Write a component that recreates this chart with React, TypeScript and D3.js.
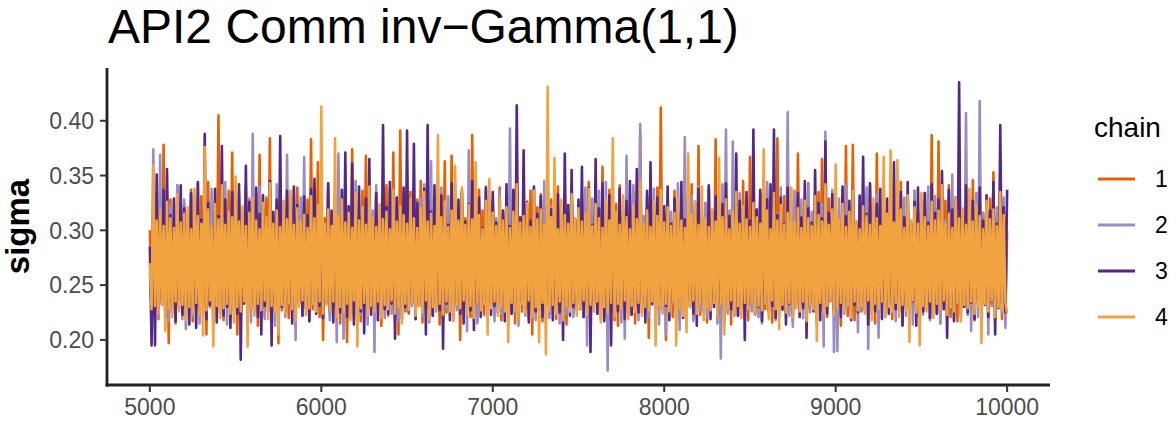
import React from 'react';
import * as d3 from 'd3';

const titleText = 'API2 Comm inv\u2212Gamma(1,1)';
const yLabel = 'sigma';
const legendTitle = 'chain';
const chainNames = ['1', '2', '3', '4'];
const chainColors = ['#E66101', '#998EC3', '#542788', '#F1A340'];
const iterStart = 5000;
const iterEnd = 10000;
const xTicks = [5000, 6000, 7000, 8000, 9000, 10000];
const yTicks = [0.2, 0.25, 0.3, 0.35, 0.4];

// sigma draws, one value every 10 iterations (5000 .. 10000)
const chain1 = [
  .300,.232,.321,.226,.334,.219,.309,.237,.378,.224,.316,.197,.328,.231,.306,.215,.341,.228,.313,.236,.325,.220,.302,.233,.337,.217,.318,.229,.307,.238,.331,.222,.311,.205,.344,.230,.320,.214,.304,.235,.405,.225,.327,.218,.312,.232,.336,.221,.371,.227,
  .315,.205,.329,.224,.308,.236,.340,.219,.322,.230,.303,.226,.335,.213,.369,.234,.317,.222,.330,.238,.384,.216,.310,.231,.326,.197,.343,.227,.305,.235,.319,.220,.332,.229,.308,.213,.339,.237,.314,.224,.301,.232,.328,.218,.383,.228,.316,.236,.362,.221,
  .324,.200,.311,.233,.338,.221,.306,.229,.327,.237,.342,.215,.313,.226,.320,.198,.304,.234,.374,.223,.330,.231,.309,.217,.336,.238,.368,.225,.318,.230,.302,.219,.333,.236,.314,.213,.327,.228,.341,.222,.307,.235,.371,.218,.323,.205,.391,.232,.310,.226,
  .317,.224,.335,.237,.303,.220,.328,.231,.345,.216,.312,.227,.306,.235,.331,.222,.319,.229,.338,.214,.308,.233,.363,.225,.315,.238,.368,.219,.326,.231,.304,.200,.334,.227,.311,.236,.322,.221,.387,.230,.305,.217,.337,.234,.318,.223,.329,.228,.309,.236,
  .326,.222,.307,.233,.339,.218,.314,.229,.301,.237,.330,.224,.318,.215,.343,.231,.309,.226,.325,.238,.312,.220,.336,.205,.304,.234,.321,.227,.333,.217,.310,.232,.302,.223,.328,.236,.316,.219,.340,.229,.306,.235,.323,.214,.311,.230,.334,.225,.303,.238,
  .319,.228,.332,.221,.308,.236,.344,.216,.315,.231,.327,.224,.305,.237,.358,.220,.313,.233,.337,.226,.302,.218,.324,.213,.341,.235,.310,.227,.329,.222,.306,.238,.335,.215,.317,.232,.388,.224,.312,.230,.331,.202,.304,.236,.326,.219,.339,.229,.412,.225,
  .314,.200,.328,.234,.307,.221,.336,.229,.319,.217,.302,.236,.333,.225,.311,.231,.342,.219,.316,.238,.377,.223,.305,.232,.325,.216,.339,.228,.309,.235,.383,.220,.318,.230,.303,.226,.330,.237,.313,.214,.337,.233,.308,.222,.322,.229,.345,.236,.310,.218,
  .367,.231,.321,.224,.306,.237,.334,.219,.315,.228,.340,.233,.303,.216,.327,.235,.384,.222,.312,.230,.331,.226,.304,.238,.338,.217,.318,.232,.370,.224,.309,.236,.326,.220,.343,.229,.305,.234,.320,.215,.335,.227,.365,.233,.311,.221,.329,.237,.307,.225,
  .323,.230,.310,.213,.337,.236,.377,.222,.314,.229,.378,.218,.306,.234,.332,.226,.319,.237,.302,.220,.341,.231,.316,.215,.370,.228,.308,.235,.330,.223,.313,.232,.339,.219,.304,.236,.324,.227,.344,.214,.311,.233,.328,.224,.305,.238,.336,.221,.317,.230,
  .312,.226,.334,.237,.303,.219,.387,.232,.320,.224,.381,.215,.309,.235,.327,.228,.341,.221,.306,.233,.318,.217,.335,.230,.302,.236,.326,.223,.313,.229,.346,.218,.308,.234,.331,.225,.316,.237,.303,.220,.329,.231,.353,.226,.311,.234,.323,.219,.306,.229,
  .228,
];

const chain2 = [
  .262,.229,.374,.235,.318,.221,.369,.232,.309,.226,.336,.217,.322,.233,.305,.224,.341,.230,.314,.219,.328,.210,.307,.236,.333,.222,.316,.228,.343,.215,.311,.234,.325,.225,.302,.231,.338,.218,.319,.236,.306,.223,.331,.229,.344,.214,.313,.233,.327,.226,
  .308,.232,.335,.220,.317,.235,.303,.227,.329,.216,.388,.231,.312,.224,.340,.236,.321,.219,.305,.230,.334,.225,.315,.213,.342,.234,.310,.228,.326,.221,.369,.233,.304,.226,.337,.200,.318,.235,.330,.222,.367,.229,.309,.217,.323,.236,.339,.224,.314,.231,
  .327,.222,.306,.234,.343,.218,.316,.230,.332,.198,.370,.227,.311,.201,.335,.233,.302,.225,.328,.219,.345,.236,.313,.223,.320,.231,.307,.214,.336,.229,.318,.189,.341,.235,.309,.226,.325,.220,.304,.232,.338,.224,.315,.236,.330,.217,.308,.228,.334,.233,
  .319,.225,.305,.231,.337,.219,.314,.236,.329,.222,.342,.228,.310,.216,.363,.234,.324,.226,.303,.232,.339,.220,.317,.229,.331,.235,.306,.218,.344,.227,.315,.233,.326,.224,.308,.208,.373,.230,.320,.236,.335,.215,.312,.228,.302,.234,.340,.223,.318,.231,
  .328,.217,.311,.235,.336,.224,.304,.230,.321,.219,.393,.233,.316,.226,.343,.213,.309,.236,.330,.222,.318,.229,.303,.234,.338,.218,.314,.231,.327,.225,.345,.236,.307,.220,.322,.228,.335,.233,.312,.215,.301,.230,.333,.224,.317,.236,.340,.221,.310,.229,
  .324,.234,.306,.222,.339,.195,.315,.231,.329,.226,.302,.236,.336,.219,.318,.228,.344,.172,.311,.233,.326,.224,.305,.235,.333,.216,.320,.201,.368,.230,.308,.223,.341,.236,.316,.218,.397,.229,.313,.234,.327,.221,.304,.232,.338,.226,.319,.214,.332,.235,
  .310,.205,.335,.227,.317,.233,.302,.220,.343,.209,.321,.236,.385,.224,.308,.230,.331,.217,.314,.235,.340,.226,.303,.232,.325,.221,.337,.229,.312,.236,.329,.215,.306,.183,.342,.231,.392,.224,.318,.234,.381,.222,.309,.228,.334,.236,.316,.219,.327,.233,
  .304,.226,.338,.232,.319,.221,.330,.215,.311,.236,.344,.224,.307,.230,.326,.218,.315,.234,.339,.227,.301,.233,.408,.222,.323,.212,.336,.229,.312,.236,.328,.220,.305,.231,.341,.225,.317,.234,.332,.216,.309,.230,.324,.194,.390,.228,.313,.235,.337,.189,
  .318,.190,.329,.233,.306,.224,.342,.230,.314,.219,.335,.236,.302,.207,.327,.228,.310,.234,.339,.192,.320,.225,.305,.231,.333,.202,.316,.236,.344,.221,.308,.229,.325,.233,.312,.217,.338,.226,.303,.235,.330,.222,.319,.231,.307,.214,.336,.228,.315,.234,
  .326,.223,.311,.232,.340,.218,.304,.236,.331,.227,.317,.215,.343,.233,.309,.225,.322,.230,.351,.220,.314,.235,.337,.226,.303,.231,.407,.224,.325,.208,.310,.236,.334,.221,.418,.229,.316,.234,.328,.205,.306,.232,.339,.219,.321,.236,.308,.225,.330,.211,
  .300,
];

const chain3 = [
  .285,.195,.318,.195,.351,.228,.309,.234,.337,.220,.356,.231,.314,.225,.329,.217,.303,.236,.341,.223,.320,.230,.307,.214,.334,.233,.316,.211,.344,.227,.310,.235,.388,.219,.325,.232,.302,.226,.338,.216,.313,.234,.377,.222,.328,.230,.306,.211,.335,.236,
  .319,.224,.342,.182,.311,.233,.359,.218,.326,.229,.304,.236,.339,.221,.315,.205,.332,.231,.308,.226,.345,.195,.317,.234,.328,.219,.386,.230,.305,.225,.336,.236,.312,.215,.340,.228,.323,.233,.301,.222,.331,.229,.314,.217,.338,.235,.347,.224,.309,.231,
  .327,.220,.306,.234,.343,.227,.318,.216,.333,.232,.310,.225,.337,.236,.371,.221,.322,.230,.361,.214,.304,.233,.340,.226,.315,.206,.329,.235,.365,.223,.308,.231,.334,.218,.312,.236,.396,.228,.321,.224,.344,.233,.307,.201,.330,.235,.316,.219,.339,.230,
  .391,.226,.314,.234,.379,.219,.325,.231,.303,.236,.338,.205,.396,.229,.317,.222,.341,.235,.309,.227,.332,.192,.320,.233,.305,.218,.343,.230,.313,.236,.328,.224,.336,.215,.308,.232,.324,.227,.345,.209,.311,.234,.330,.221,.302,.236,.339,.228,.316,.223,
  .335,.231,.307,.225,.329,.236,.318,.217,.342,.230,.304,.224,.337,.233,.414,.220,.312,.235,.373,.228,.326,.216,.309,.232,.340,.226,.315,.236,.331,.221,.303,.229,.344,.234,.319,.218,.306,.231,.333,.225,.314,.200,.370,.236,.323,.222,.355,.230,.310,.227,
  .328,.234,.358,.221,.311,.230,.339,.189,.305,.236,.365,.224,.320,.232,.343,.217,.308,.229,.332,.195,.316,.235,.302,.226,.338,.231,.313,.219,.327,.236,.345,.223,.309,.230,.356,.225,.321,.234,.304,.216,.336,.229,.362,.233,.314,.222,.330,.236,.307,.227,
  .322,.231,.340,.218,.306,.235,.329,.226,.315,.233,.344,.220,.310,.229,.333,.236,.301,.224,.326,.213,.338,.232,.312,.227,.305,.236,.341,.219,.318,.230,.331,.225,.308,.234,.324,.216,.343,.231,.313,.228,.302,.236,.370,.222,.327,.233,.311,.200,.335,.229,
  .309,.236,.392,.223,.319,.230,.337,.217,.304,.234,.328,.226,.342,.231,.392,.220,.314,.235,.330,.228,.306,.214,.339,.233,.317,.225,.303,.236,.334,.221,.312,.229,.345,.202,.320,.232,.307,.226,.355,.235,.325,.218,.311,.230,.381,.224,.316,.236,.333,.227,
  .318,.233,.305,.221,.340,.229,.313,.236,.327,.218,.336,.232,.308,.225,.331,.235,.367,.227,.315,.214,.343,.233,.302,.226,.324,.236,.338,.219,.310,.231,.329,.224,.306,.234,.362,.228,.321,.236,.335,.213,.312,.230,.344,.223,.304,.235,.326,.213,.339,.232,
  .311,.226,.334,.236,.307,.220,.342,.231,.316,.224,.328,.235,.354,.228,.303,.202,.337,.233,.319,.217,.330,.236,.435,.222,.312,.230,.341,.225,.305,.234,.327,.219,.314,.236,.339,.227,.309,.232,.332,.221,.318,.235,.344,.205,.306,.229,.396,.233,.321,.225,
  .337,
];

const chain4 = [
  .270,.228,.359,.231,.309,.224,.318,.233,.304,.208,.326,.229,.311,.221,.302,.235,.333,.226,.307,.232,.315,.218,.321,.230,.301,.225,.338,.234,.313,.223,.306,.204,.376,.227,.319,.236,.303,.194,.324,.231,.310,.220,.341,.229,.305,.233,.317,.224,.312,.216,
  .349,.230,.308,.226,.322,.235,.304,.194,.316,.229,.330,.222,.309,.233,.301,.227,.325,.236,.312,.219,.343,.231,.306,.225,.318,.205,.303,.232,.327,.224,.310,.234,.336,.228,.305,.217,.320,.230,.308,.236,.314,.223,.302,.229,.331,.233,.311,.226,.323,.235,
  .413,.224,.306,.232,.319,.227,.304,.235,.384,.221,.313,.230,.328,.225,.307,.233,.316,.218,.302,.236,.334,.194,.309,.229,.321,.234,.305,.223,.340,.231,.312,.226,.303,.235,.324,.220,.310,.232,.317,.228,.301,.236,.337,.224,.308,.230,.322,.215,.314,.233,
  .306,.227,.329,.234,.311,.222,.302,.231,.320,.225,.335,.236,.308,.219,.315,.230,.304,.228,.387,.233,.312,.223,.326,.235,.303,.226,.318,.217,.359,.232,.309,.229,.339,.236,.305,.224,.323,.231,.310,.220,.362,.234,.314,.227,.301,.233,.327,.205,.347,.229,
  .316,.235,.304,.222,.330,.231,.309,.226,.321,.198,.302,.234,.317,.228,.342,.219,.307,.233,.313,.225,.325,.236,.303,.221,.336,.230,.310,.198,.319,.234,.305,.187,.431,.227,.312,.232,.366,.224,.301,.235,.328,.218,.314,.231,.306,.226,.333,.234,.311,.222,
  .320,.229,.308,.236,.315,.223,.338,.232,.304,.227,.324,.235,.311,.216,.302,.230,.329,.225,.309,.234,.384,.221,.317,.233,.305,.228,.332,.236,.312,.219,.301,.231,.323,.226,.310,.234,.344,.222,.306,.230,.318,.227,.303,.235,.327,.195,.313,.232,.337,.224,
  .307,.233,.321,.226,.304,.235,.316,.195,.330,.229,.309,.222,.302,.207,.370,.231,.314,.236,.326,.224,.305,.232,.340,.218,.311,.230,.303,.227,.319,.234,.308,.221,.366,.233,.312,.205,.328,.229,.301,.236,.317,.225,.335,.231,.306,.220,.322,.234,.310,.228,
  .303,.235,.325,.223,.312,.231,.306,.227,.374,.233,.318,.219,.301,.236,.334,.228,.309,.210,.323,.232,.305,.225,.316,.234,.339,.221,.307,.230,.320,.226,.302,.235,.327,.217,.311,.232,.304,.228,.331,.199,.314,.234,.308,.224,.342,.231,.305,.236,.319,.222,
  .360,.229,.310,.234,.324,.226,.303,.232,.317,.220,.336,.235,.308,.227,.301,.231,.322,.224,.313,.236,.305,.218,.329,.233,.311,.228,.304,.235,.367,.222,.315,.230,.373,.226,.307,.234,.364,.221,.319,.232,.302,.227,.332,.198,.309,.236,.321,.225,.306,.195,
  .334,.231,.312,.226,.304,.235,.326,.220,.309,.233,.318,.228,.341,.236,.306,.223,.315,.230,.302,.226,.330,.234,.311,.217,.320,.232,.305,.229,.338,.235,.308,.224,.323,.231,.313,.197,.301,.233,.327,.226,.310,.236,.319,.221,.304,.230,.335,.227,.314,.234,
  .224,
];

const chains = [chain1, chain2, chain3, chain4];

const W = 1176;
const H = 426;
const panel = { left: 107, right: 1050, top: 68, bottom: 385 };
const FONT = 'Liberation Sans, Arial, Helvetica, sans-serif';

export default function App() {
  const xPad = (iterEnd - iterStart) * 0.05;
  const x = d3.scaleLinear().domain([iterStart - xPad, iterEnd + xPad]).range([panel.left, panel.right]);
  const all = chains.flat();
  const [mn, mx] = d3.extent(all) as [number, number];
  const yPad = (mx - mn) * 0.05;
  const y = d3.scaleLinear().domain([mn - yPad, mx + yPad]).range([panel.bottom, panel.top]);

  const makeLine = (vals: number[]) => {
    const n = vals.length;
    const line = d3
      .line<number>()
      .x((_, i) => x(iterStart + (i * (iterEnd - iterStart)) / (n - 1)))
      .y((d) => y(d));
    return line(vals) || '';
  };

  const legendX = 1098;
  const legendY0 = 179;
  const legendStep = 46;

  return (
    <svg
      width={W}
      height={H}
      style={{ position: 'absolute', left: 0, top: 0, display: 'block', background: '#fff' }}
      fontFamily={FONT}
    >
      <rect x={0} y={0} width={W} height={H} fill="#fff" />
      <text x={108} y={43} fontSize={48} fill="#000">{titleText}</text>

      <g>
        {chains.map((c, ci) => (
          <path
            key={ci}
            d={makeLine(c)}
            fill="none"
            stroke={chainColors[ci]}
            strokeWidth={2.6}
            strokeLinejoin="round"
          />
        ))}
      </g>

      <line x1={panel.left} x2={panel.left} y1={panel.top} y2={panel.bottom + 1.4} stroke="#222" strokeWidth={2.8} />
      <line x1={panel.left - 1.4} x2={panel.right} y1={panel.bottom} y2={panel.bottom} stroke="#222" strokeWidth={2.8} />

      {yTicks.map((t) => (
        <g key={t}>
          <line x1={panel.left - 7} x2={panel.left} y1={y(t)} y2={y(t)} stroke="#333" strokeWidth={2} />
          <text x={panel.left - 13} y={y(t)} dy="0.36em" textAnchor="end" fontSize={23} fill="#4D4D4D">
            {t.toFixed(2)}
          </text>
        </g>
      ))}
      {xTicks.map((t) => (
        <g key={t}>
          <line x1={x(t)} x2={x(t)} y1={panel.bottom} y2={panel.bottom + 7} stroke="#333" strokeWidth={2} />
          <text x={x(t)} y={407} dy="0.36em" textAnchor="middle" fontSize={23} fill="#4D4D4D">
            {String(t)}
          </text>
        </g>
      ))}

      <text
        transform={`translate(${29},${(panel.top + panel.bottom) / 2}) rotate(-90)`}
        textAnchor="middle"
        fontSize={33}
        fontWeight="bold"
        fill="#000"
      >
        {yLabel}
      </text>

      <text x={1094} y={137} fontSize={28} fill="#000">{legendTitle}</text>
      {chainNames.map((nm, i) => (
        <g key={nm}>
          <line
            x1={legendX}
            x2={legendX + 37}
            y1={legendY0 + i * legendStep}
            y2={legendY0 + i * legendStep}
            stroke={chainColors[i]}
            strokeWidth={3}
          />
          <text x={1155} y={legendY0 + i * legendStep} dy="0.36em" fontSize={23} fill="#000">
            {nm}
          </text>
        </g>
      ))}
    </svg>
  );
}
